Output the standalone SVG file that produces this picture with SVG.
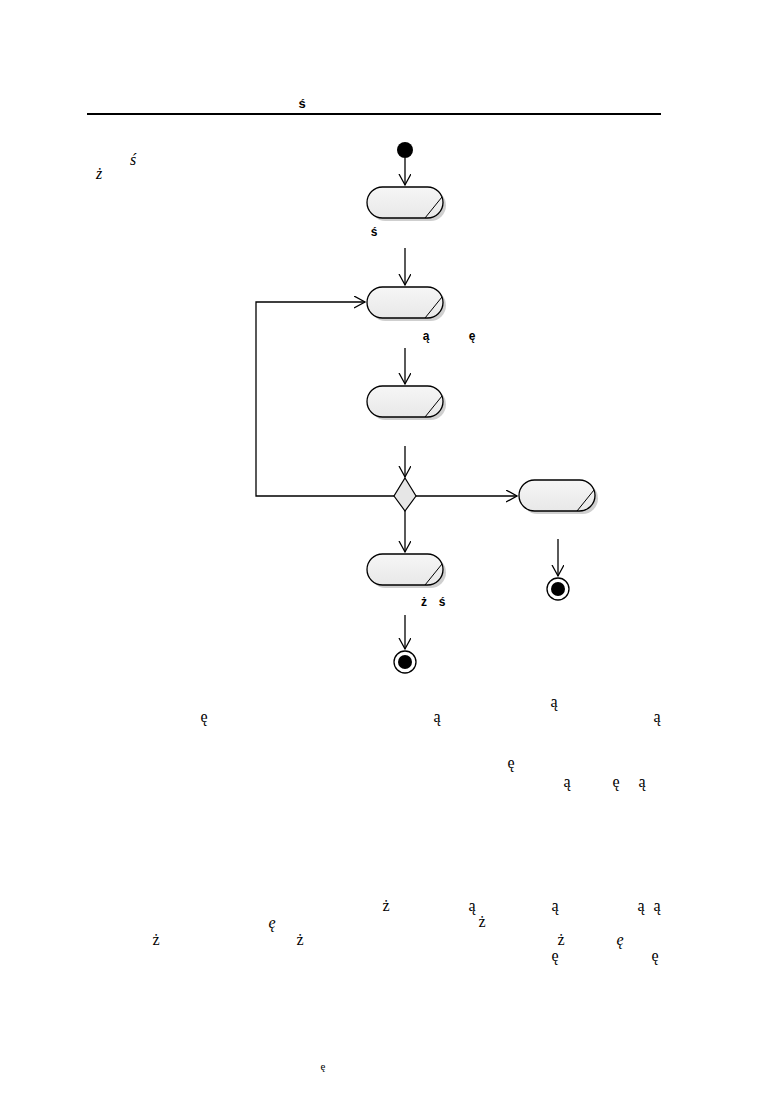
<svg xmlns="http://www.w3.org/2000/svg" width="774" height="1094" viewBox="0 0 774 1094">
<style>
.act{fill:url(#g);stroke:#000;stroke-width:1.3}
.sh{fill:#cfcfcf}
.diag{stroke:#000;stroke-width:1;fill:none}
.edge{stroke:#000;stroke-width:1.3;fill:none}
.lbl{font-family:"Liberation Sans",Arial,sans-serif;font-weight:bold;font-size:12px;text-anchor:middle}
.body{font-family:"Liberation Serif","Times New Roman","DejaVu Serif",serif;font-size:16px;text-anchor:middle}
.it{font-style:italic}
</style>
<defs>
<linearGradient id="g" x1="0" y1="0" x2="0" y2="1">
<stop offset="0" stop-color="#f6f6f6"/>
<stop offset="1" stop-color="#e8e8e8"/>
</linearGradient>
<marker id="arr" markerWidth="14" markerHeight="14" refX="11" refY="6" orient="auto" markerUnits="userSpaceOnUse">
<path d="M0,0 L11,6 L0,12" fill="none" stroke="#000" stroke-width="1.3"/>
</marker>
</defs>
<rect id="rule" x="87" y="113" width="574" height="2" fill="#000"/>
<text class="lbl" x="302" y="108" style="font-size:13px">ś</text>
<text class="body it" x="133" y="165">ś</text>
<text class="body it" x="99" y="179">ż</text>
<g id="connectors">
<line class="edge" x1="405" y1="158" x2="405" y2="185" marker-end="url(#arr)"/>
<line class="edge" x1="405" y1="248" x2="405" y2="285" marker-end="url(#arr)"/>
<line class="edge" x1="405" y1="348" x2="405" y2="384" marker-end="url(#arr)"/>
<line class="edge" x1="405" y1="446" x2="405" y2="477" marker-end="url(#arr)"/>
<polyline class="edge" points="394,496 256,496 256,302 365,302" marker-end="url(#arr)"/>
<line class="edge" x1="416" y1="496" x2="517" y2="496" marker-end="url(#arr)"/>
<line class="edge" x1="405" y1="510" x2="405" y2="552" marker-end="url(#arr)"/>
<line class="edge" x1="405" y1="615" x2="405" y2="649" marker-end="url(#arr)"/>
<line class="edge" x1="558" y1="539" x2="558" y2="576" marker-end="url(#arr)"/>
</g>
<g id="start"><circle cx="405" cy="150" r="8" fill="#000"/></g>
<g id="n1">
<rect class="sh" x="370" y="190" width="76" height="31" rx="15.5"/>
<rect class="act" x="367" y="187" width="76" height="31" rx="15.5"/>
<line class="diag" x1="425" y1="218" x2="442" y2="197"/>
<text class="lbl" x="374" y="236">ś</text>
</g>
<g id="n2">
<rect class="sh" x="370" y="290" width="76" height="31" rx="15.5"/>
<rect class="act" x="367" y="287" width="76" height="31" rx="15.5"/>
<line class="diag" x1="425" y1="318" x2="442" y2="297"/>
<text class="lbl" x="426" y="340">ą</text>
<text class="lbl" x="472" y="340">ę</text>
</g>
<g id="n3">
<rect class="sh" x="370" y="389" width="76" height="31" rx="15.5"/>
<rect class="act" x="367" y="386" width="76" height="31" rx="15.5"/>
<line class="diag" x1="425" y1="417" x2="442" y2="396"/>
</g>
<g id="decision">
<polygon points="405,478 416,496 405,511 394,496" fill="#e6e6e6" stroke="#000" stroke-width="1.2"/>
</g>
<g id="n4">
<rect class="sh" x="522" y="483" width="76" height="31" rx="15.5"/>
<rect class="act" x="519" y="480" width="76" height="31" rx="15.5"/>
<line class="diag" x1="577" y1="511" x2="594" y2="490"/>
</g>
<g id="n5">
<rect class="sh" x="370" y="557" width="76" height="31" rx="15.5"/>
<rect class="act" x="367" y="554" width="76" height="31" rx="15.5"/>
<line class="diag" x1="425" y1="585" x2="442" y2="564"/>
<text class="lbl" x="424" y="606">ż</text>
<text class="lbl" x="442" y="606">ś</text>
</g>
<g id="end1">
<circle cx="405" cy="662" r="11" fill="#fff" stroke="#000" stroke-width="1.3"/>
<circle cx="405" cy="662" r="7" fill="#000"/>
</g>
<g id="end2">
<circle cx="558" cy="589" r="11" fill="#fff" stroke="#000" stroke-width="1.3"/>
<circle cx="558" cy="589" r="7" fill="#000"/>
</g>
<g id="text-body">
<text class="body" x="554" y="707">ą</text>
<text class="body" x="204" y="722">ę</text>
<text class="body" x="437" y="722">ą</text>
<text class="body" x="657" y="722">ą</text>
<text class="body" x="511" y="768">ę</text>
<text class="body" x="567" y="787">ą</text>
<text class="body" x="616" y="787">ę</text>
<text class="body" x="642" y="787">ą</text>
<text class="body" x="386" y="911">ż</text>
<text class="body" x="472" y="911">ą</text>
<text class="body" x="555" y="911">ą</text>
<text class="body" x="641" y="911">ą</text>
<text class="body" x="657" y="911">ą</text>
<text class="body it" x="272" y="928">ę</text>
<text class="body" x="482" y="927">ż</text>
<text class="body" x="156" y="945">ż</text>
<text class="body" x="300" y="945">ż</text>
<text class="body" x="561" y="945">ż</text>
<text class="body it" x="620" y="945">ę</text>
<text class="body" x="555" y="961">ę</text>
<text class="body" x="655" y="961">ę</text>
<text class="body" x="323" y="1070" style="font-size:11px">ę</text>
</g>
</svg>
